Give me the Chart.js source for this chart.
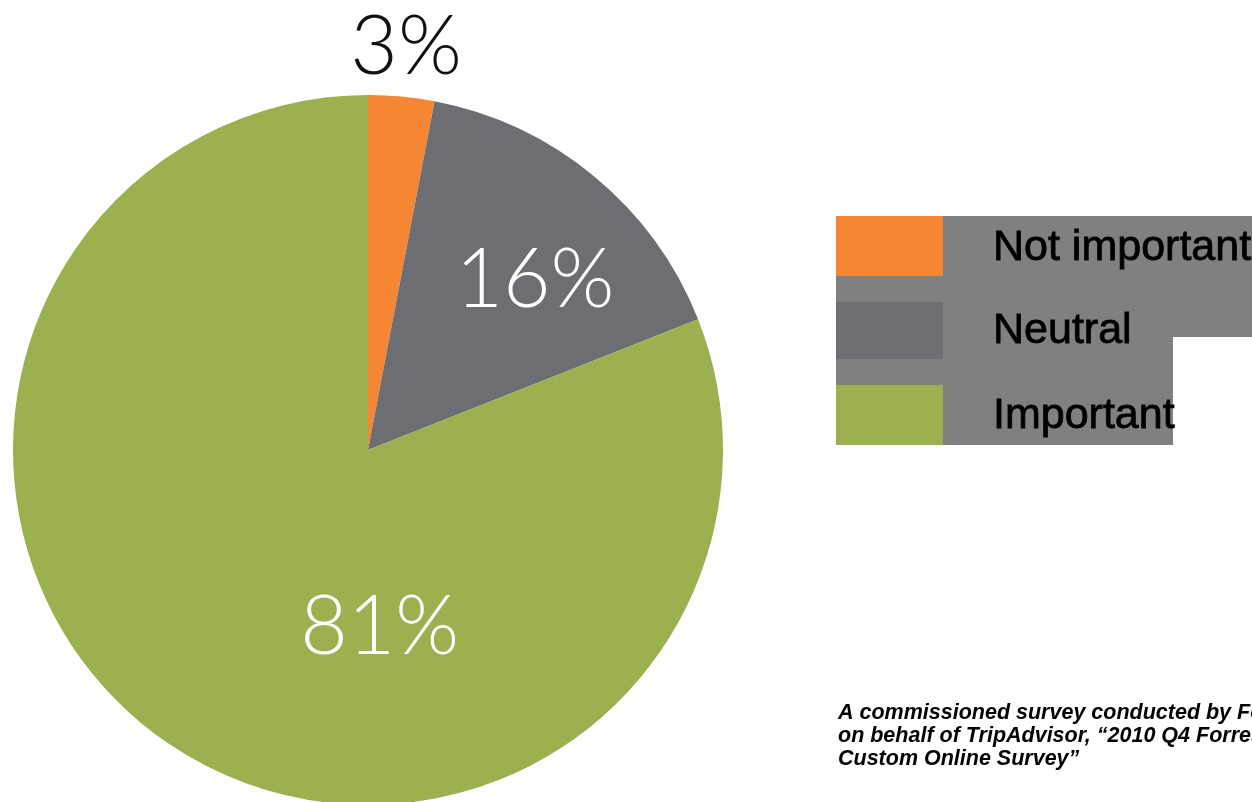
<!DOCTYPE html>
<html lang="en">
<head>
    <meta charset="UTF-8">
    <title>Importance of reviews</title>
    <script src="https://cdn.jsdelivr.net/npm/chart.js"></script>
    <style>
    html, body { margin: 0; padding: 0; overflow: hidden; background: #ffffff; }
    canvas { display: block; }
    </style>
</head>
<body>
    <canvas id="pieChart" width="1252" height="900"></canvas>
    <script>
    // survey answers, in drawing order (clockwise from 12 o'clock)
    const categories = ['Not important', 'Neutral', 'Important'];
    const shares = [3, 16, 81];
    const sliceColors = ['#f58634', '#6d6e72', '#9bb04f'];
    const sourceLines = [
        'A commissioned survey conducted by Forrester Consulting',
        'on behalf of TripAdvisor, \u201c2010 Q4 Forrester',
        'Custom Online Survey\u201d'
    ];

    // where each percentage sits: angle shift from slice middle (deg) and distance as share of radius
    const labelSpots = [
        { shift: 0, dist: 1.14, color: '#111111' },
        { shift: 5, dist: 0.67, color: '#ffffff' },
        { shift: -38, dist: 0.50, color: '#ffffff' }
    ];

    const overlay = {
        id: 'overlay',
        afterDraw(chart) {
            const c = chart.ctx;
            const arcs = chart.getDatasetMeta(0).data;
            c.save();

            // percentages
            c.font = '300 82px "Century Gothic", Lato, sans-serif';
            c.textAlign = 'center';
            c.textBaseline = 'middle';
            arcs.forEach((arc, i) => {
                const spot = labelSpots[i];
                const a = (arc.startAngle + arc.endAngle) / 2 + spot.shift * Math.PI / 180;
                const r = arc.outerRadius * spot.dist;
                c.fillStyle = spot.color;
                c.fillText(chart.data.datasets[0].data[i] + '%', arc.x + Math.cos(a) * r, arc.y + Math.sin(a) * r);
            });

            // legend backdrop
            c.fillStyle = '#808080';
            c.fillRect(836, 216, 416, 121);
            c.fillRect(836, 337, 337, 108);

            // legend entries
            c.font = '43px "Liberation Sans", Arial, sans-serif';
            c.textAlign = 'left';
            c.textBaseline = 'alphabetic';
            c.lineWidth = 0.8;
            c.strokeStyle = '#000000';
            const rowTops = [216, 302, 385];
            const rowHeights = [60, 57, 60];
            const baselines = [260, 343, 428];
            chart.data.labels.forEach((label, i) => {
                c.fillStyle = sliceColors[i];
                c.fillRect(836, rowTops[i], 107, rowHeights[i]);
                c.fillStyle = '#000000';
                c.fillText(label, 993, baselines[i]);
                c.strokeText(label, 993, baselines[i]);
            });

            // source note
            c.font = 'italic bold 21.5px "Liberation Sans", Arial, sans-serif';
            c.fillStyle = '#000000';
            sourceLines.forEach((line, i) => c.fillText(line, 838, 719 + i * 23));

            c.restore();
        }
    };

    new Chart(document.getElementById('pieChart'), {
        type: 'pie',
        data: {
            labels: categories,
            datasets: [{
                data: shares,
                backgroundColor: sliceColors,
                borderWidth: 0
            }]
        },
        options: {
            responsive: false,
            animation: false,
            layout: { padding: { left: 13, top: 95, right: 529, bottom: 95 } },
            plugins: {
                legend: { display: false },
                tooltip: { enabled: false }
            }
        },
        plugins: [overlay]
    });
    </script>
</body>
</html>
